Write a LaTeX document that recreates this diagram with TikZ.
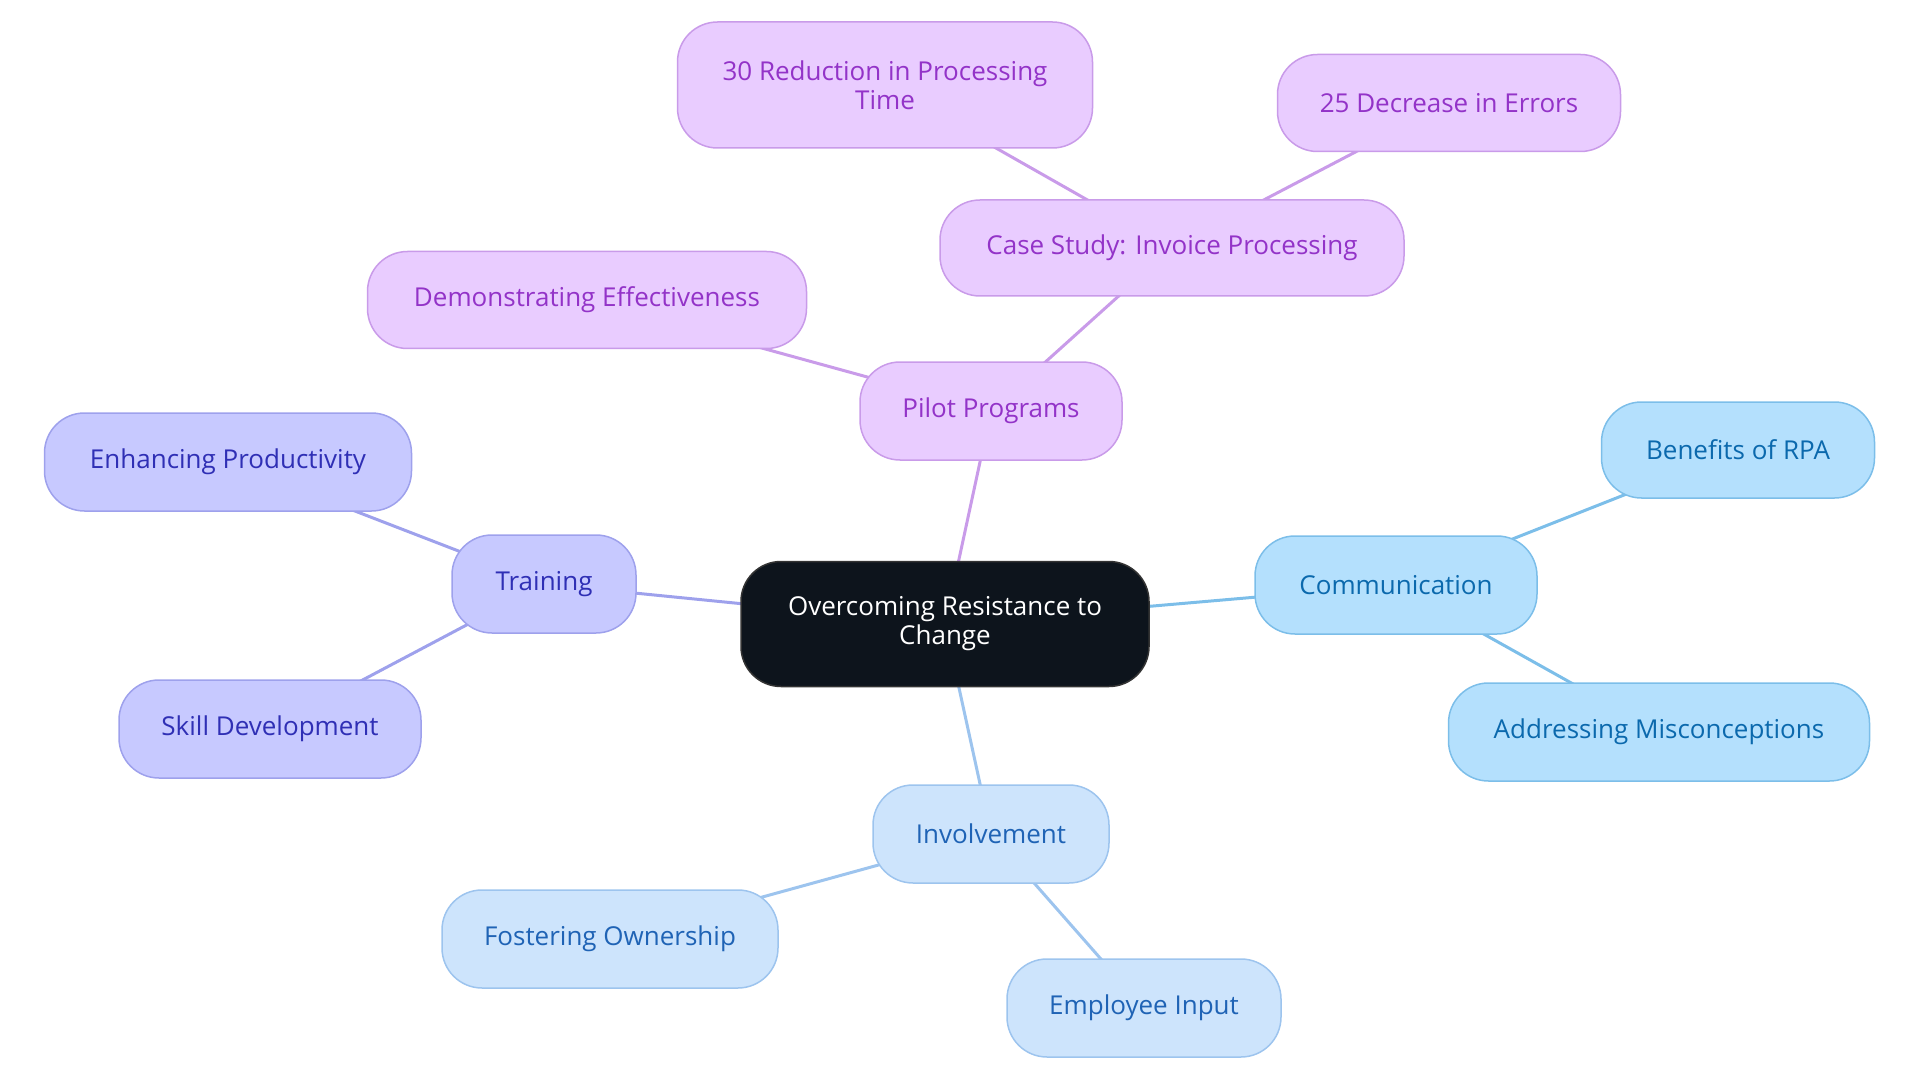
\documentclass[tikz,border=0pt]{standalone}
\usepackage{fontspec}
\setmainfont{Open Sans}
\usetikzlibrary{backgrounds}
\definecolor{pfill}{HTML}{E9CCFF}
\definecolor{pline}{HTML}{C99BE9}
\definecolor{ptext}{HTML}{9333C8}
\definecolor{ifill}{HTML}{C7C9FF}
\definecolor{iline}{HTML}{9EA1EC}
\definecolor{itext}{HTML}{2F2FB5}
\definecolor{sfill}{HTML}{B4E0FD}
\definecolor{sline}{HTML}{7CBEE9}
\definecolor{stext}{HTML}{0B69AD}
\definecolor{lfill}{HTML}{CDE4FC}
\definecolor{lline}{HTML}{9DC4EE}
\definecolor{ltext}{HTML}{1F63B5}
\definecolor{cfill}{HTML}{0D141C}
\begin{document}
\begin{tikzpicture}[x=1pt,y=-1pt,
  box/.style={rounded corners=40pt, line width=1.5pt, align=center, inner sep=0pt,
    font=\fontsize{26}{29}\selectfont},
  pbox/.style={box, fill=pfill, draw=pline, text=ptext},
  ibox/.style={box, fill=ifill, draw=iline, text=itext},
  sbox/.style={box, fill=sfill, draw=sline, text=stext},
  lbox/.style={box, fill=lfill, draw=lline, text=ltext},
  cbox/.style={box, fill=cfill, draw=black!80, text=white},
  conn/.style={line width=3pt}]
\useasboundingbox (0,0) rectangle (1920,1083);
\node[cbox, minimum width=408pt, minimum height=125pt] (c) at (945,624) {Overcoming Resistance to\\Change};
\node[pbox, minimum width=262pt, minimum height=98pt] (pp) at (991,411) {Pilot Programs};
\node[pbox, minimum width=464pt, minimum height=96pt] (cs) at (1172,248) {Case Study: Invoice Processing};
\node[pbox, minimum width=415pt, minimum height=126pt] (r30) at (885,85) {30 Reduction in Processing\\Time};
\node[pbox, minimum width=343pt, minimum height=97pt] (d25) at (1449,103) {25 Decrease in Errors};
\node[pbox, minimum width=439pt, minimum height=97pt] (de) at (587,300) {Demonstrating Effectiveness};
\node[ibox, minimum width=184pt, minimum height=98pt] (tr) at (544,584) {Training};
\node[ibox, minimum width=367pt, minimum height=98pt] (ep) at (228,462) {Enhancing Productivity};
\node[ibox, minimum width=302pt, minimum height=98pt] (sd) at (270,729) {Skill Development};
\node[sbox, minimum width=282pt, minimum height=98pt] (cm) at (1396,585) {Communication};
\node[sbox, minimum width=273pt, minimum height=96pt] (br) at (1738,450) {Benefits of RPA};
\node[sbox, minimum width=421pt, minimum height=98pt] (am) at (1659,732) {Addressing Misconceptions};
\node[lbox, minimum width=236pt, minimum height=98pt] (iv) at (991,834) {Involvement};
\node[lbox, minimum width=336pt, minimum height=98pt] (fo) at (610,939) {Fostering Ownership};
\node[lbox, minimum width=274pt, minimum height=98pt] (ei) at (1144,1008) {Employee Input};
\begin{pgfonlayer}{background}
\draw[conn, pline] (c.center) -- (pp.center);
\draw[conn, pline] (pp.center) -- (cs.center);
\draw[conn, pline] (pp.center) -- (de.center);
\draw[conn, pline] (cs.center) -- (r30.center);
\draw[conn, pline] (cs.center) -- (d25.center);
\draw[conn, iline] (c.center) -- (tr.center);
\draw[conn, iline] (tr.center) -- (ep.center);
\draw[conn, iline] (tr.center) -- (sd.center);
\draw[conn, sline] (c.center) -- (cm.center);
\draw[conn, sline] (cm.center) -- (br.center);
\draw[conn, sline] (cm.center) -- (am.center);
\draw[conn, lline] (c.center) -- (iv.center);
\draw[conn, lline] (iv.center) -- (fo.center);
\draw[conn, lline] (iv.center) -- (ei.center);
\end{pgfonlayer}
\end{tikzpicture}
\end{document}
